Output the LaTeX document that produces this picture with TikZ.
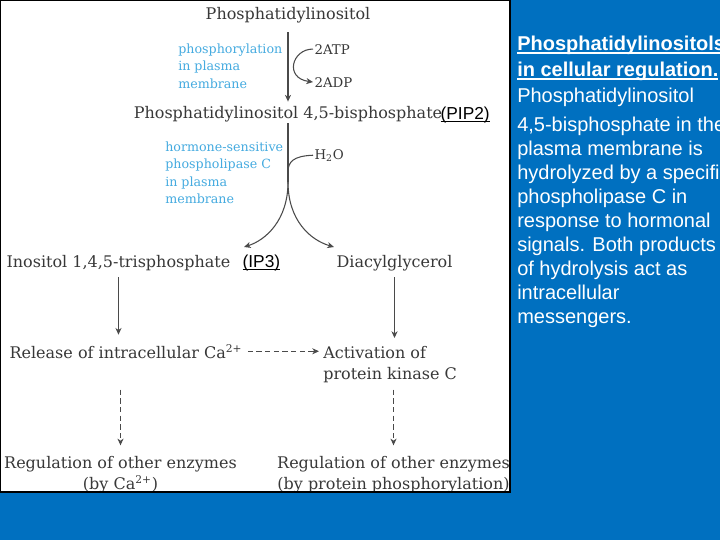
\documentclass[tikz,border=0pt]{standalone}
\usepackage{fontspec}
\newfontfamily\slidefont{Liberation Sans}
\newfontfamily\pathfont{DejaVu Serif}
\usetikzlibrary{arrows.meta,positioning,calc}
\definecolor{sblue}{HTML}{0070C0}
\definecolor{enzblue}{HTML}{45ABE0}
\definecolor{ink}{HTML}{383838}
\definecolor{arrowgray}{HTML}{4A4A4A}
\newcommand{\ulined}[2][1.3pt]{\sbox0{#2}\rlap{\rule[-2.2pt]{\wd0}{#1}}\usebox0}

\begin{document}
\begin{tikzpicture}[x=0.75pt, y=-0.75pt,
  chem/.style={font=\pathfont\fontsize{12}{15.75}\selectfont, text=ink, inner sep=1pt},
  enz/.style={font=\pathfont\fontsize{9.5}{13.1}\selectfont, text=enzblue, align=left, inner sep=0pt},
  side/.style={font=\pathfont\fontsize{10}{12}\selectfont, text=ink, inner sep=1pt},
  tag/.style={font=\slidefont\fontsize{13}{15}\selectfont, text=black, inner sep=1pt},
  arr/.style={draw=arrowgray, line width=0.8pt, -{Stealth[length=5pt,width=4.5pt,inset=1.5pt]}},
  darr/.style={arr, dash pattern=on 4pt off 2.5pt}]
\useasboundingbox (0,0) rectangle (720,540);
\clip (0,0) rectangle (720,540);
\fill[sblue] (0,0) rectangle (720,540);
% ---- white panel ----
\fill[white] (0,0) rectangle (510,492);
\begin{scope}
\clip (0,0) rectangle (510,492);
% ---- phosphorylation step ----
\node[chem, anchor=base] (pi) at (288,19) {Phosphatidylinositol};
\node[enz, anchor=north west] (kinase) at (178,43.5) {phosphorylation\\in plasma\\membrane};
\node[side, anchor=base west] (atp) at (313,54) {2ATP};
\node[side, anchor=base west] (adp) at (313,87) {2ADP};
\node[chem, anchor=base] (pip2) at (288,118) {Phosphatidylinositol 4,5-bisphosphate};
\node[tag, anchor=base west] (pip2tag) at (439,119) {\ulined[1pt]{(PIP2)}};
\draw[arr, shorten <=6pt, shorten >=2pt] (pi) -- (pip2);
\draw[arr] (atp.west) .. controls (292,49) and (284,78) .. (adp.west);
% ---- hydrolysis by phospholipase C ----
\node[enz, anchor=north west] (plc) at (165,141.5) {hormone-sensitive\\phospholipase C\\in plasma\\membrane};
\node[side, anchor=base west] (h2o) at (313,159) {H\textsubscript{2}O};
\node[chem, anchor=base west] (ip3) at (5,267) {Inositol 1,4,5-trisphosphate};
\node[tag, anchor=base west] (ip3tag) at (241,267) {\ulined[1pt]{(IP3)}};
\node[chem, anchor=base west] (dag) at (335,267) {Diacylglycerol};
\coordinate (split) at (288,182);
\coordinate (merge) at (288,172);
\coordinate (ip3end) at (244,247);
\coordinate (dagend) at (334,247);
\draw[draw=arrowgray, line width=0.8pt] (pip2) -- (split);
\draw[draw=arrowgray, line width=0.8pt] (h2o.west) .. controls (293,156) and (288,162) .. (merge);
\draw[arr] (split) .. controls (288,220) and (266,240) .. (ip3end);
\draw[arr] (split) .. controls (288,220) and (310,240) .. (dagend);
% ---- second messengers ----
\node[chem, anchor=base west] (ca) at (8,358) {Release of intracellular Ca\textsuperscript{2+}};
\node[chem, anchor=north west, align=left, inner sep=0pt] (pkc) at (323,346) {Activation of\\protein kinase C};
\draw[arr, shorten <=4pt, shorten >=6pt] (ip3.south) -- (ip3.south |- ca.north);
\draw[arr, shorten <=4pt, shorten >=6pt] (dag.south) -- (dag.south |- pkc.north);
\draw[darr, shorten <=3pt, shorten >=3pt] (ca.east) -- (ca.east -| pkc.west);
% ---- downstream regulation ----
\node[chem, anchor=north, align=center, inner sep=0pt] (regca) at (120.5,456) {Regulation of other enzymes\\(by Ca\textsuperscript{2+})};
\node[chem, anchor=north, align=center, inner sep=0pt] (regpkc) at (393.5,456) {Regulation of other enzymes\\(by protein phosphorylation)};
\draw[darr, shorten <=5pt, shorten >=8pt] (regca.north |- pkc.south) -- (regca.north);
\draw[darr, shorten <=5pt, shorten >=8pt] (regpkc.north |- pkc.south) -- (regpkc.north);
\end{scope}
\draw[black, line width=1pt] (0.5,0.5) rectangle (510,492);
% ---- caption on the slide ----
\node[anchor=north west, align=left, inner sep=0pt, text=white,
      font=\slidefont\fontsize{15}{18}\selectfont] (caption) at (517,36)
  {{\bfseries\ulined{Phosphatidylinositols}}\\[1.5pt]
   {\bfseries\ulined{in cellular regulation.}}\\[1.5pt]
   Phosphatidylinositol\\[3.75pt]
   4,5-bisphosphate in the\\
   plasma membrane is\\
   hydrolyzed by a specific\\
   phospholipase C in\\
   response to hormonal\\
   signals. Both products\\
   of hydrolysis act as\\
   intracellular\\
   messengers.};
\end{tikzpicture}
\end{document}
